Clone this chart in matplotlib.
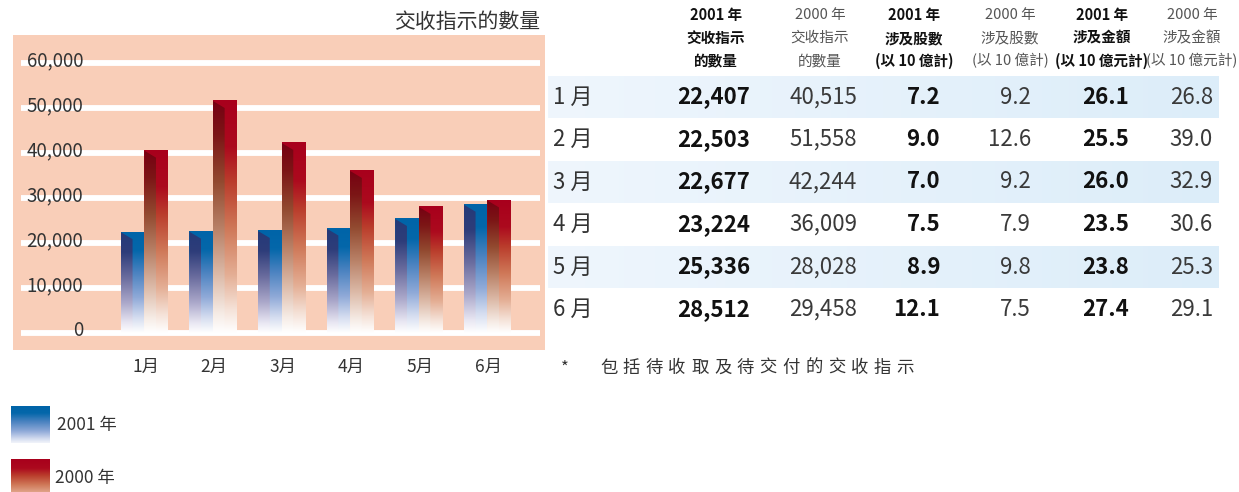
import numpy as np
import matplotlib.pyplot as plt
from matplotlib.colors import LinearSegmentedColormap
from matplotlib.patches import Polygon

plt.rcParams['font.family'] = ['Noto Sans CJK TC', 'DejaVu Sans']

# data
months = ['1月', '2月', '3月', '4月', '5月', '6月']
row_labels = ['1 月', '2 月', '3 月', '4 月', '5 月', '6 月']
instr_2001 = [22407, 22503, 22677, 23224, 25336, 28512]
instr_2000 = [40515, 51558, 42244, 36009, 28028, 29458]
shares_2001 = [7.2, 9.0, 7.0, 7.5, 8.9, 12.1]
shares_2000 = [9.2, 12.6, 9.2, 7.9, 9.8, 7.5]
value_2001 = [26.1, 25.5, 26.0, 23.5, 23.8, 27.4]
value_2000 = [26.8, 39.0, 32.9, 30.6, 25.3, 29.1]
y_ticks = [0, 10000, 20000, 30000, 40000, 50000, 60000]

headers = [
    (['2001 年', '交收指示', '的數量'], True),
    (['2000 年', '交收指示', '的數量'], False),
    (['2001 年', '涉及股數', '(以 10 億計)'], True),
    (['2000 年', '涉及股數', '(以 10 億計)'], False),
    (['2001 年', '涉及金額', '(以 10 億元計)'], True),
    (['2000 年', '涉及金額', '(以 10 億元計)'], False),
]
footnote = '包括待收取及待交付的交收指示'

# gradients
blue_front = LinearSegmentedColormap.from_list('bf', [
    (0, '#0064A8'), (0.18, '#0467AA'), (0.4, '#4A82C0'), (0.65, '#90AAD8'),
    (0.85, '#D5DDF0'), (1, '#FFFFFF')])
blue_side = LinearSegmentedColormap.from_list('bs', [
    (0, '#243A78'), (0.2, '#2E3D7A'), (0.45, '#6A6C9E'), (0.7, '#ABA8CA'),
    (0.9, '#E8E6F2'), (1, '#FFFFFF')])
red_front = LinearSegmentedColormap.from_list('rf', [
    (0, '#A8001C'), (0.2, '#AC0A1E'), (0.35, '#BA3D2C'), (0.55, '#CF7858'),
    (0.75, '#E4AE94'), (0.9, '#F5E2D8'), (1, '#FFFFFF')])
red_side = LinearSegmentedColormap.from_list('rs', [
    (0, '#760012'), (0.15, '#7C1616'), (0.35, '#924A30'), (0.55, '#B88066'),
    (0.75, '#DCBAA8'), (0.92, '#F6ECE6'), (1, '#FFFFFF')])
band_cmap = LinearSegmentedColormap.from_list('band', ['#EFF6FD', '#DCEDF9'])
grad_v = np.linspace(0, 1, 256).reshape(-1, 1)

fig = plt.figure(figsize=(12.39, 4.92), dpi=100)

# background axes in pixel coordinates for table, legend and notes
bg = fig.add_axes([0, 0, 1, 1], zorder=0)
bg.set_xlim(0, 1239)
bg.set_ylim(492, 0)
bg.axis('off')

# chart panel
W, H = 1239, 492
ax = fig.add_axes([13 / W, (H - 350) / H, 532 / W, 315 / H], zorder=1)
ax.set_facecolor('#F9CEB8')
for s in ax.spines.values():
    s.set_visible(False)
ax.set_xticks([])
ax.set_yticks([])

px_x = 68.6
px_y = 60000 / 270
xlim = ((13 - 144.3) / px_x, (545 - 144.3) / px_x)
ylim = (-17 * px_y, 60000 + 28 * px_y)

ax.hlines(y_ticks, (21 - 144.3) / px_x, (540 - 144.3) / px_x,
          colors='white', linewidth=4.2, zorder=1)
for v in y_ticks:
    ax.text((83 - 144.3) / px_x, v - 3 * px_y, f'{v:,}', ha='right',
            va='baseline', fontsize=13.5, color='#333333', zorder=5)


def draw_bar(x0, w, h, cf, cs):
    ax.imshow(grad_v, cmap=cf, extent=(x0, x0 + w, 0, h), aspect='auto',
              origin='upper', zorder=3)
    xm = x0 + w / 2
    poly = Polygon([(x0, h), (xm, h - 7 * px_y), (xm, 0), (x0, 0)],
                   closed=True, facecolor='none', edgecolor='none')
    ax.add_patch(poly)
    im = ax.imshow(grad_v, cmap=cs, extent=(x0, xm, 0, h), aspect='auto',
                   origin='upper', zorder=4)
    im.set_clip_path(poly)


bw = 23.5 / px_x
for i in range(len(months)):
    draw_bar(i - bw, bw, instr_2001[i], blue_front, blue_side)
    draw_bar(i, bw, instr_2000[i], red_front, red_side)
    ax.text(i + 0.02, -34 * px_y, months[i], ha='center', va='center',
            fontsize=12.5, color='#333333', clip_on=False)

ax.set_xlim(*xlim)
ax.set_ylim(*ylim)

# title
bg.text(540, 22, '交收指示的數量', ha='right', va='center', fontsize=15,
        color='#333333')

# table
row_y = [97 + 42.5 * i for i in range(6)]
col_right = [750, 857, 940, 1031, 1129, 1213]
col_center = [716, 820, 914, 1010, 1102, 1192]
for i, y in enumerate(row_y):
    if i % 2 == 0:
        bg.imshow(np.linspace(0, 1, 256).reshape(1, -1), cmap=band_cmap,
                  extent=(548, 1219, y + 21, y - 21), aspect='auto', zorder=0)
columns = [
    [f'{v:,}' for v in instr_2001],
    [f'{v:,}' for v in instr_2000],
    [f'{v:.1f}' for v in shares_2001],
    [f'{v:.1f}' for v in shares_2000],
    [f'{v:.1f}' for v in value_2001],
    [f'{v:.1f}' for v in value_2000],
]
for i, y in enumerate(row_y):
    bg.text(553, y, row_labels[i], ha='left', va='center', fontsize=16,
            color='#333333')
    for c, col in enumerate(columns):
        bold = c % 2 == 0
        bg.text(col_right[c], y, col[i], ha='right', va='center', fontsize=16,
                fontweight='bold' if bold else 'normal',
                color='#111111' if bold else '#3a3a3a')

for c, (lines, bold) in enumerate(headers):
    for j, t in enumerate(lines):
        bg.text(col_center[c], 15 + 23 * j, t, ha='center', va='center',
                fontsize=10.5, fontweight='bold' if bold else 'normal',
                color='#111111' if bold else '#555555')

# footnote
bg.text(565, 368, '*', ha='center', va='center', fontsize=12, color='#333333')
for k, ch in enumerate(footnote):
    bg.text(600 + 22.8 * k, 368, ch, ha='left', va='center', fontsize=12.5,
            color='#333333')

# legend
bg.imshow(grad_v, cmap=blue_front, extent=(11, 50, 443, 406), aspect='auto',
          origin='upper', vmin=0, vmax=1.05)
bg.imshow(grad_v * 0.75, cmap=red_front, extent=(11, 50, 494, 459),
          aspect='auto', origin='upper', vmin=0, vmax=1)
bg.text(57, 425, '2001 年', ha='left', va='center', fontsize=12.5,
        color='#333333')
bg.text(55, 478, '2000 年', ha='left', va='center', fontsize=12.5,
        color='#333333')
bg.set_xlim(0, 1239)
bg.set_ylim(492, 0)

fig.savefig('out.png', dpi=100)
